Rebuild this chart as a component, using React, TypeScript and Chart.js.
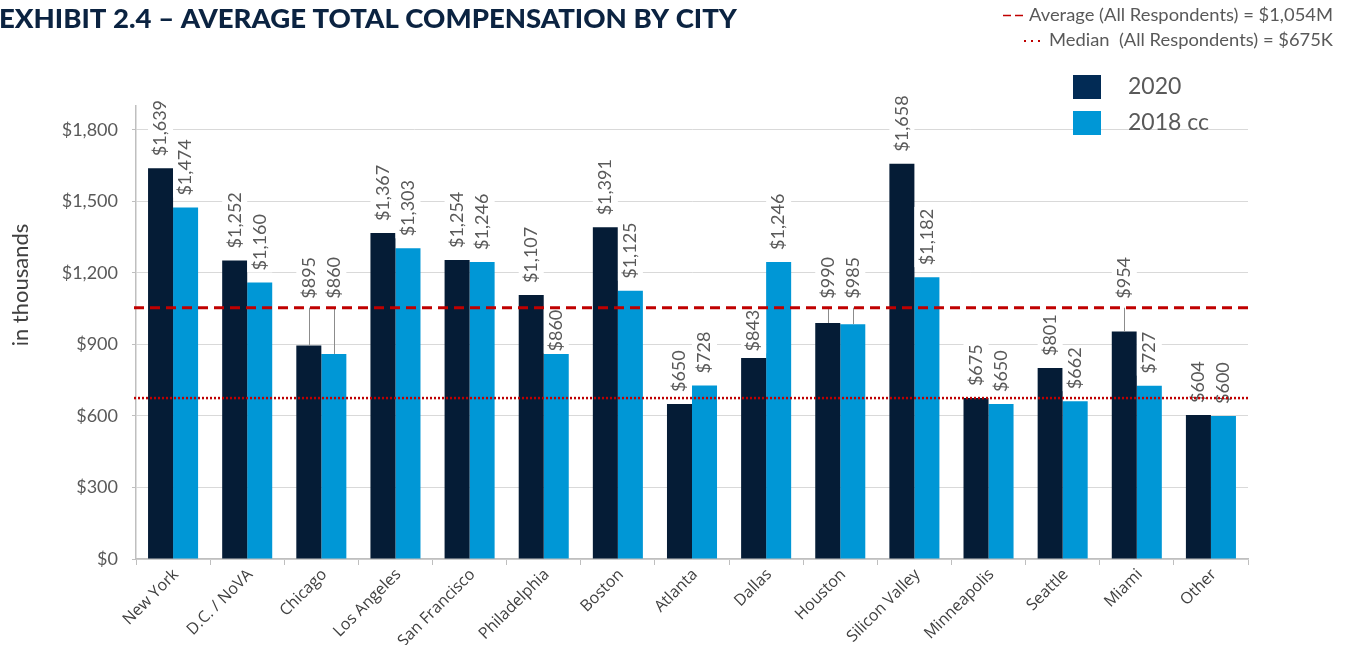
import React, { useEffect, useRef } from "react";
import { Chart, registerables } from "chart.js";

Chart.register(...registerables);

const cities = [
  "New York", "D.C. / NoVA", "Chicago", "Los Angeles", "San Francisco",
  "Philadelphia", "Boston", "Atlanta", "Dallas", "Houston",
  "Silicon Valley", "Minneapolis", "Seattle", "Miami", "Other",
];
const values2020 = [1639, 1252, 895, 1367, 1254, 1107, 1391, 650, 843, 990, 1658, 675, 801, 954, 604];
const values2018 = [1474, 1160, 860, 1303, 1246, 860, 1125, 728, 1246, 985, 1182, 650, 662, 727, 600];
const seriesNames = ["2020", "2018 cc"];
const yTicks = [0, 300, 600, 900, 1200, 1500, 1800];
const averageAll = 1054;
const medianAll = 675;
const titleText = "EXHIBIT 2.4 – AVERAGE TOTAL COMPENSATION BY CITY";
const averageNote = "Average (All Respondents) = $1,054M";
const medianNote = "Median  (All Respondents) = $675K";
const yAxisTitle = "in thousands";

const COLOR_2020 = "#051c36";
const COLOR_2018 = "#0097d6";
const LEGEND_2020 = "#022b55";
const RED = "#c00000";
const GRAY_TEXT = "#595959";

const fmt = (v: number) => "$" + v.toLocaleString("en-US");

function fitText(ctx: CanvasRenderingContext2D, text: string, x: number, y: number, width: number, align: "left" | "right") {
  const w = ctx.measureText(text).width;
  const s = width / w;
  ctx.save();
  if (align === "left") {
    ctx.translate(x, y);
  } else {
    ctx.translate(x - width, y);
  }
  ctx.scale(s, 1);
  ctx.textAlign = "left";
  ctx.fillText(text, 0, 0);
  ctx.restore();
}

const overlayPlugin = {
  id: "overlay",
  afterDatasetsDraw(chart: any) {
    const ctx: CanvasRenderingContext2D = chart.ctx;
    const area = chart.chartArea;
    const yScale = chart.scales.y;
    const xScale = chart.scales.x;
    const avgY = yScale.getPixelForValue(averageAll);
    const medY = yScale.getPixelForValue(medianAll);
    const GAP = 12;
    ctx.save();

    // category labels (rotated 45°)
    ctx.font = "16px 'Open Sans'";
    ctx.fillStyle = "#404040";
    ctx.textAlign = "right";
    ctx.textBaseline = "middle";
    cities.forEach((c, i) => {
      const cx = xScale.getPixelForValue(i);
      ctx.save();
      ctx.translate(cx + 3, area.bottom + 13);
      ctx.rotate(-Math.PI / 4);
      ctx.fillText(c, 0, 0);
      ctx.restore();
    });

    ctx.font = "18px Lato";
    const metas = [chart.getDatasetMeta(0), chart.getDatasetMeta(1)];
    const datas = [values2020, values2018];
    for (let i = 0; i < cities.length; i++) {
      const info = metas.map((m, d) => {
        const el = m.data[i];
        const v = datas[d][i];
        const text = fmt(v);
        const tw = ctx.measureText(text).width;
        const top = el.y;
        const natBottom = top - GAP;
        const natTop = natBottom - tw;
        const crosses = v < averageAll && natTop < avgY + 2 && natBottom > avgY - 2;
        const fits = top - avgY >= tw + 4;
        return { el, v, text, tw, top, natBottom, crosses, fits };
      });
      const leaderCat = info.some((b) => b.crosses && !b.fits);
      info.forEach((b) => {
        let bottom = b.natBottom;
        let leader = false;
        if (b.crosses) {
          if (leaderCat) {
            bottom = avgY - 9;
            leader = true;
          } else {
            bottom = avgY + 2 + b.tw;
          }
        }
        const cx = b.el.x;
        const bw = b.el.width;
        if (leader) {
          ctx.strokeStyle = "#8c8c8c";
          ctx.lineWidth = 1;
          ctx.beginPath();
          ctx.moveTo(Math.round(cx) + 0.5, avgY);
          ctx.lineTo(Math.round(cx) + 0.5, b.top);
          ctx.stroke();
        }
        ctx.fillStyle = "#ffffff";
        ctx.fillRect(cx - bw / 2, bottom - b.tw - 2, bw, b.tw + 4);
        ctx.save();
        ctx.translate(cx, bottom);
        ctx.rotate(-Math.PI / 2);
        ctx.fillStyle = GRAY_TEXT;
        ctx.textAlign = "left";
        ctx.textBaseline = "middle";
        ctx.fillText(b.text, 0, 0);
        ctx.restore();
      });
    }
    // reference lines
    ctx.strokeStyle = RED;
    ctx.lineWidth = 3;
    ctx.setLineDash([10, 6]);
    ctx.beginPath();
    ctx.moveTo(area.left - 2, avgY);
    ctx.lineTo(area.right, avgY);
    ctx.stroke();
    ctx.lineWidth = 2.5;
    ctx.setLineDash([2, 2]);
    ctx.beginPath();
    ctx.moveTo(area.left - 2, medY);
    ctx.lineTo(area.right, medY);
    ctx.stroke();
    ctx.restore();
  },
  afterDraw(chart: any) {
    const ctx: CanvasRenderingContext2D = chart.ctx;
    ctx.save();
    // title
    ctx.fillStyle = "#0b2341";
    ctx.font = "900 27px Lato";
    ctx.textBaseline = "alphabetic";
    fitText(ctx, titleText, -1, 28, 738, "left");
    // notes
    ctx.fillStyle = GRAY_TEXT;
    ctx.font = "17px Lato";
    fitText(ctx, averageNote, 1333, 21, 304, "right");
    fitText(ctx, medianNote, 1333, 46, 284, "right");
    ctx.strokeStyle = RED;
    ctx.lineWidth = 1.3;
    ctx.setLineDash([8, 4]);
    ctx.beginPath();
    ctx.moveTo(1003, 15.5);
    ctx.lineTo(1023, 15.5);
    ctx.stroke();
    ctx.setLineDash([]);
    ctx.fillStyle = RED;
    [1024, 1031, 1038].forEach((x) => ctx.fillRect(x, 40, 2, 2));
    // legend
    const legendColors = [LEGEND_2020, COLOR_2018];
    seriesNames.forEach((name, k) => {
      const y0 = 75 + k * 36;
      ctx.fillStyle = legendColors[k];
      ctx.fillRect(1073, y0, 28, 24);
      ctx.fillStyle = GRAY_TEXT;
      ctx.font = "23px Lato";
      ctx.textAlign = "left";
      ctx.textBaseline = "middle";
      ctx.fillText(name, 1128, y0 + 12);
    });
    // y axis title
    ctx.save();
    ctx.translate(21, 285);
    ctx.rotate(-Math.PI / 2);
    ctx.fillStyle = "#404040";
    ctx.font = "22px Lato";
    ctx.textAlign = "center";
    ctx.textBaseline = "middle";
    ctx.fillText(yAxisTitle, 0, 0);
    ctx.restore();
    ctx.restore();
  },
};

export default function App() {
  const ref = useRef<HTMLCanvasElement>(null);
  useEffect(() => {
    if (!ref.current) return;
    const chart = new Chart(ref.current, {
      type: "bar",
      data: {
        labels: cities,
        datasets: [
          { label: seriesNames[0], data: values2020, backgroundColor: COLOR_2020, barPercentage: 1, categoryPercentage: 0.675 },
          { label: seriesNames[1], data: values2018, backgroundColor: COLOR_2018, barPercentage: 1, categoryPercentage: 0.675 },
        ],
      },
      options: {
        responsive: false,
        animation: false,
        devicePixelRatio: 1,
        layout: { padding: { left: 0, right: 100, top: 106, bottom: 0 } },
        plugins: { legend: { display: false }, tooltip: { enabled: false } },
        scales: {
          x: {
            grid: { display: true, drawOnChartArea: false, drawTicks: true, tickLength: 6, offset: true, color: "#bfbfbf" },
            border: { color: "#bfbfbf", width: 1.5 },
            ticks: { display: false },
            afterFit: (scale: any) => { scale.height = 86; },
          },
          y: {
            min: 0,
            max: 1900,
            grid: { color: "#d9d9d9", tickLength: 4, tickColor: "#bfbfbf" },
            border: { color: "#bfbfbf", width: 1.5 },
            ticks: {
              stepSize: 300, padding: 14, color: GRAY_TEXT,
              font: { family: "Lato", size: 18 },
              callback: (v: any) => fmt(Number(v)),
            },
            afterBuildTicks: (axis: any) => {
              axis.ticks = yTicks.map((v) => ({ value: v }));
            },
            afterFit: (scale: any) => { scale.width = 136; },
          },
        },
      },
      plugins: [overlayPlugin],
    });
    return () => chart.destroy();
  }, []);
  return (
    <div style={{ position: "fixed", left: 0, top: 0, width: 1348, height: 645, background: "#fff" }}>
      <canvas ref={ref} width={1348} height={645} style={{ width: 1348, height: 645, display: "block" }} />
    </div>
  );
}
